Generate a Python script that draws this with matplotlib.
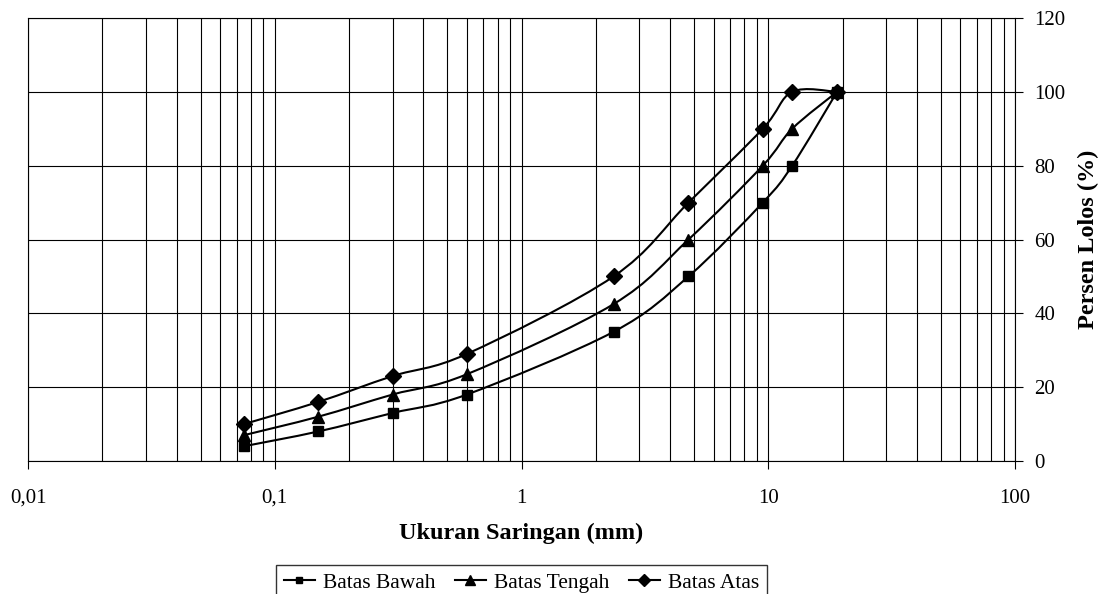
import matplotlib
matplotlib.use("Agg")
import matplotlib.pyplot as plt
import numpy as np
from matplotlib.path import Path
from matplotlib.patches import PathPatch
from matplotlib.lines import Line2D
from matplotlib.ticker import FixedLocator, FuncFormatter

plt.rcParams['font.family'] = ['Liberation Serif', 'DejaVu Serif']

# ukuran saringan (mm) dan batas gradasi (% lolos)
ukuran = [0.075, 0.15, 0.3, 0.6, 2.36, 4.75, 9.5, 12.5, 19]
batas_bawah = [4, 8, 13, 18, 35, 50, 70, 80, 100]
batas_tengah = [7, 12, 18, 23.5, 42.5, 60, 80, 90, 100]
batas_atas = [10, 16, 23, 29, 50, 70, 90, 100, 100]

seri = [("Batas Bawah", batas_bawah, "s", 7),
        ("Batas Tengah", batas_tengah, "^", 8.5),
        ("Batas Atas", batas_atas, "D", 8)]


def kurva_halus(x, y):
    # bezier ala "smoothed line" Excel, dihitung di ruang log10(x)
    lx = np.log10(x)
    p = np.column_stack([lx, y]).astype(float)
    n = len(p)
    verts = [p[0]]
    codes = [Path.MOVETO]
    for i in range(n - 1):
        p0 = p[i - 1] if i > 0 else p[i]
        p1, p2 = p[i], p[i + 1]
        p3 = p[i + 2] if i + 2 < n else p[i + 1]
        c1 = p1 + (p2 - p0) / 6.0
        c2 = p2 - (p3 - p1) / 6.0
        verts += [c1, c2, p2]
        codes += [Path.CURVE4] * 3
    verts = np.array(verts)
    verts[:, 0] = 10 ** verts[:, 0]
    return Path(verts, codes)


fig = plt.figure(figsize=(11.04, 5.94), dpi=100)
ax = fig.add_axes([0.0254, 0.2239, 0.8940, 0.7458])

ax.set_xscale("log")
ax.set_xlim(0.01, 100)
ax.set_ylim(0, 120)

for nama, nilai, mk, ms in seri:
    ax.add_patch(PathPatch(kurva_halus(ukuran, nilai), fill=False,
                           edgecolor="black", lw=1.5, zorder=3))
    ax.plot(ukuran, nilai, ls="none", marker=mk, ms=ms, color="black", zorder=4)

# grid
ax.xaxis.set_major_locator(FixedLocator([0.01, 0.1, 1, 10, 100]))
minor = [m * 10.0 ** e for e in range(-2, 2) for m in range(2, 10)]
ax.xaxis.set_minor_locator(FixedLocator(minor))
ax.xaxis.set_major_formatter(FuncFormatter(lambda v, _: ("%g" % v).replace(".", ",")))
ax.xaxis.set_minor_formatter(FuncFormatter(lambda v, _: ""))
ax.set_yticks(np.arange(0, 121, 20))
ax.grid(True, which="both", axis="x", color="black", lw=0.8)
ax.grid(True, which="major", axis="y", color="black", lw=0.8)

ax.tick_params(axis="x", which="major", direction="out", length=6, width=0.8,
               labelsize=15, pad=14)
ax.tick_params(axis="x", which="minor", length=0)
ax.yaxis.tick_right()
ax.yaxis.set_label_position("right")
ax.tick_params(axis="y", direction="out", length=6, width=0.8, labelsize=15, pad=8)
for s in ax.spines.values():
    s.set_color("black")
    s.set_linewidth(0.8)

ax.set_xlabel("Ukuran Saringan (mm)", fontsize=17.5, fontweight="bold", labelpad=11)
ax.set_ylabel("Persen Lolos (%)", fontsize=17.5, fontweight="bold", labelpad=9)

handles = [Line2D([], [], color="black", lw=1.5, marker=mk, ms=ms - 2)
           for _, _, mk, ms in seri]
fig.legend(handles, [s[0] for s in seri], loc="upper center",
           bbox_to_anchor=(0.4724, 0.0488), ncol=3, frameon=True, fancybox=False,
           edgecolor="black", fontsize=15.5, handlelength=1.45, handletextpad=0.37,
           columnspacing=0.9, borderpad=0.35, borderaxespad=0)

fig.savefig("out.png", dpi=100)
